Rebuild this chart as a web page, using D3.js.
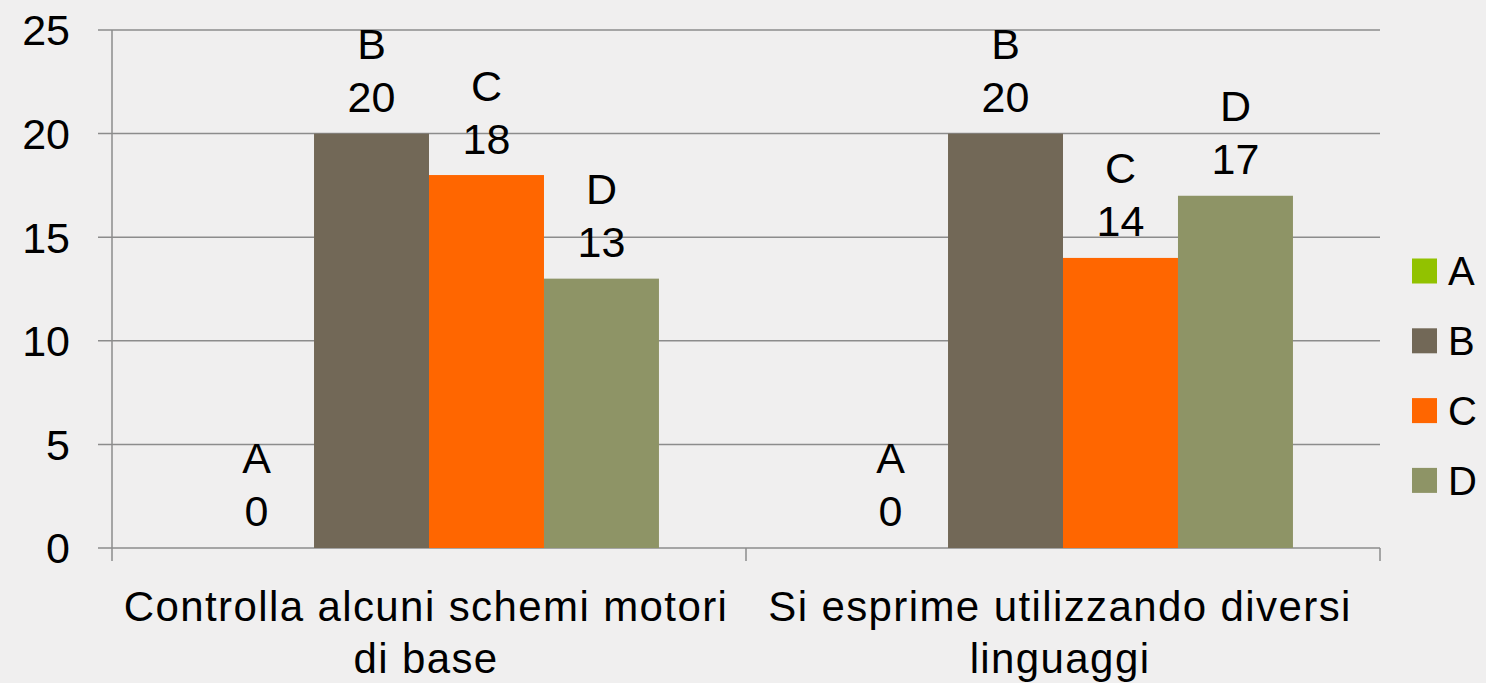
<!DOCTYPE html>
<html>
<head>
<meta charset="utf-8">
<script src="https://cdn.jsdelivr.net/npm/d3@7"></script>
<style>
  html, body { margin: 0; padding: 0; background: #f0efef; }
  svg text { font-family: "Liberation Sans", Arial, sans-serif; fill: #000; }
</style>
</head>
<body>
<svg width="1486" height="683"></svg>
<script>
// data
const categories = [["Controlla alcuni schemi motori", "di base"], ["Si esprime utilizzando diversi", "linguaggi"]];
const series = ["A", "B", "C", "D"];
const valuesA = [0, 0];
const valuesB = [20, 20];
const valuesC = [18, 14];
const valuesD = [13, 17];
const colors = ["#92c200", "#726857", "#ff6600", "#8e9466"];
const yTicks = [0, 5, 10, 15, 20, 25];

const allValues = [valuesA, valuesB, valuesC, valuesD];

const $svg = d3.select("svg");
const margin = { left: 112, right: 106, top: 30, bottom: 135 };
const width = 1486, height = 683;

const x = d3.scaleBand()
  .domain(d3.range(categories.length))
  .range([margin.left, width - margin.right])
  .paddingInner(0)
  .paddingOuter(0);

const xInner = d3.scaleBand()
  .domain(series)
  .range([0, x.bandwidth()])
  .paddingOuter(0.757);

const y = d3.scaleLinear()
  .domain([0, 25])
  .range([height - margin.bottom, margin.top]);

// gridlines
$svg.append("g")
  .selectAll("line")
  .data(yTicks)
  .enter()
  .append("line")
  .attr("x1", margin.left - 14)
  .attr("x2", width - margin.right)
  .attr("y1", d => y(d))
  .attr("y2", d => y(d))
  .attr("stroke", "#8c8c8c")
  .attr("stroke-width", 1.5);

// y axis labels
$svg.append("g")
  .selectAll("text")
  .data(yTicks)
  .enter()
  .append("text")
  .attr("x", 70)
  .attr("y", d => y(d))
  .attr("dy", "0.36em")
  .attr("text-anchor", "end")
  .attr("font-size", 43)
  .text(d => d);

// y axis line
$svg.append("line")
  .attr("x1", margin.left).attr("x2", margin.left)
  .attr("y1", y(25)).attr("y2", y(0) + 13)
  .attr("stroke", "#8c8c8c").attr("stroke-width", 1.5);

// x axis category ticks
const xTickPos = d3.range(categories.length).map(i => x(i) + x.bandwidth());
$svg.append("g")
  .selectAll("line")
  .data(xTickPos)
  .enter()
  .append("line")
  .attr("x1", d => d).attr("x2", d => d)
  .attr("y1", y(0)).attr("y2", y(0) + 13)
  .attr("stroke", "#8c8c8c").attr("stroke-width", 1.5);

// bars
const groups = $svg.append("g")
  .selectAll("g")
  .data(categories)
  .enter()
  .append("g")
  .attr("transform", (d, i) => `translate(${x(i)},0)`);

series.forEach((s, si) => {
  groups.append("rect")
    .attr("x", xInner(s))
    .attr("width", xInner.bandwidth())
    .attr("y", (d, i) => y(allValues[si][i]))
    .attr("height", (d, i) => y(0) - y(allValues[si][i]))
    .attr("fill", colors[si]);

  groups.append("text")
    .attr("x", xInner(s) + xInner.bandwidth() / 2)
    .attr("y", (d, i) => y(allValues[si][i]) - 90)
    .attr("dy", "0.36em")
    .attr("text-anchor", "middle")
    .attr("font-size", 43)
    .text(s);

  groups.append("text")
    .attr("x", xInner(s) + xInner.bandwidth() / 2)
    .attr("y", (d, i) => y(allValues[si][i]) - 37)
    .attr("dy", "0.36em")
    .attr("text-anchor", "middle")
    .attr("font-size", 43)
    .text((d, i) => allValues[si][i]);
});

// category labels
const catLabels = $svg.append("g")
  .selectAll("text")
  .data(categories)
  .enter()
  .append("text")
  .attr("text-anchor", "middle")
  .attr("font-size", 42)
  .attr("letter-spacing", 1.4)
  .attr("transform", (d, i) => `translate(${x(i) + x.bandwidth() / 2 - 3},0)`);

catLabels.selectAll("tspan")
  .data(d => d)
  .enter()
  .append("tspan")
  .attr("x", 0)
  .attr("y", (d, j) => 606 + j * 52)
  .attr("dy", "0.36em")
  .text(d => d);

// legend
const legend = $svg.append("g")
  .selectAll("g")
  .data(series)
  .enter()
  .append("g")
  .attr("transform", (d, i) => `translate(1412,${271 + i * 69.8})`);

legend.append("rect")
  .attr("x", 0).attr("y", -12.5)
  .attr("width", 25).attr("height", 25)
  .attr("fill", (d, i) => colors[i]);

legend.append("text")
  .attr("x", 36)
  .attr("y", 0)
  .attr("dy", "0.36em")
  .attr("font-size", 40)
  .text(d => d);
</script>
</body>
</html>
